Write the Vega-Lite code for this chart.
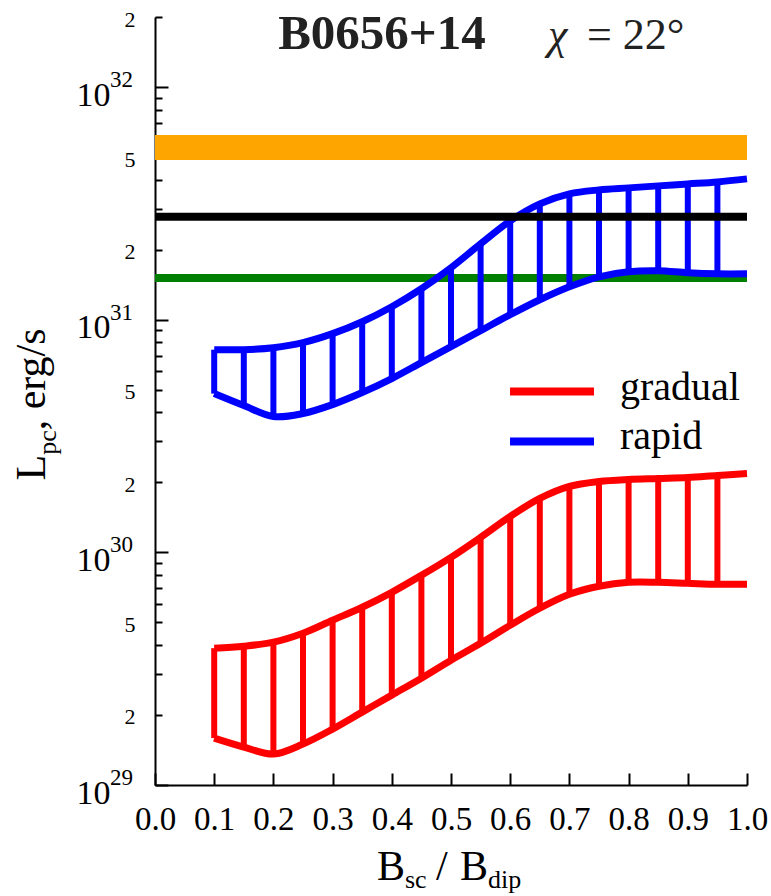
{
  "$schema": "https://vega.github.io/schema/vega-lite/v6.json",
  "width": 592,
  "height": 768,
  "autosize": {"type": "none"},
  "padding": {"left": 155, "top": 17, "right": 24, "bottom": 111},
  "background": "white",
  "config": {"view": {"stroke": null}},
  "datasets": {
    "band": [
      {"series": "gradual", "x": 0.10, "lo": 1.591e29, "hi": 3.873e29},
      {"series": "gradual", "x": 0.15, "lo": 1.456e29, "hi": 3.950e29},
      {"series": "gradual", "x": 0.20, "lo": 1.358e29, "hi": 4.110e29},
      {"series": "gradual", "x": 0.25, "lo": 1.500e29, "hi": 4.490e29},
      {"series": "gradual", "x": 0.30, "lo": 1.739e29, "hi": 5.107e29},
      {"series": "gradual", "x": 0.35, "lo": 2.057e29, "hi": 5.806e29},
      {"series": "gradual", "x": 0.40, "lo": 2.434e29, "hi": 6.734e29},
      {"series": "gradual", "x": 0.45, "lo": 2.879e29, "hi": 7.967e29},
      {"series": "gradual", "x": 0.50, "lo": 3.440e29, "hi": 9.518e29},
      {"series": "gradual", "x": 0.55, "lo": 4.068e29, "hi": 1.1598e30},
      {"series": "gradual", "x": 0.60, "lo": 4.861e29, "hi": 1.427e30},
      {"series": "gradual", "x": 0.65, "lo": 5.750e29, "hi": 1.705e30},
      {"series": "gradual", "x": 0.70, "lo": 6.601e29, "hi": 1.920e30},
      {"series": "gradual", "x": 0.75, "lo": 7.146e29, "hi": 2.017e30},
      {"series": "gradual", "x": 0.80, "lo": 7.434e29, "hi": 2.058e30},
      {"series": "gradual", "x": 0.85, "lo": 7.434e29, "hi": 2.078e30},
      {"series": "gradual", "x": 0.90, "lo": 7.362e29, "hi": 2.099e30},
      {"series": "gradual", "x": 0.95, "lo": 7.290e29, "hi": 2.141e30},
      {"series": "gradual", "x": 1.00, "lo": 7.290e29, "hi": 2.180e30},
      {"series": "rapid", "x": 0.10, "lo": 4.813e30, "hi": 7.43e30},
      {"series": "rapid", "x": 0.15, "lo": 4.274e30, "hi": 7.43e30},
      {"series": "rapid", "x": 0.20, "lo": 3.835e30, "hi": 7.58e30},
      {"series": "rapid", "x": 0.25, "lo": 3.951e30, "hi": 7.97e30},
      {"series": "rapid", "x": 0.30, "lo": 4.316e30, "hi": 8.71e30},
      {"series": "rapid", "x": 0.35, "lo": 4.861e30, "hi": 9.80e30},
      {"series": "rapid", "x": 0.40, "lo": 5.582e30, "hi": 1.137e31},
      {"series": "rapid", "x": 0.45, "lo": 6.539e30, "hi": 1.358e31},
      {"series": "rapid", "x": 0.50, "lo": 7.659e30, "hi": 1.672e31},
      {"series": "rapid", "x": 0.55, "lo": 8.970e30, "hi": 2.120e31},
      {"series": "rapid", "x": 0.60, "lo": 1.0507e31, "hi": 2.660e31},
      {"series": "rapid", "x": 0.65, "lo": 1.218e31, "hi": 3.147e31},
      {"series": "rapid", "x": 0.70, "lo": 1.385e31, "hi": 3.474e31},
      {"series": "rapid", "x": 0.75, "lo": 1.529e31, "hi": 3.613e31},
      {"series": "rapid", "x": 0.80, "lo": 1.607e31, "hi": 3.686e31},
      {"series": "rapid", "x": 0.85, "lo": 1.623e31, "hi": 3.760e31},
      {"series": "rapid", "x": 0.90, "lo": 1.591e31, "hi": 3.834e31},
      {"series": "rapid", "x": 0.95, "lo": 1.575e31, "hi": 3.911e31},
      {"series": "rapid", "x": 1.00, "lo": 1.575e31, "hi": 4.029e31}
    ],
    "levels": [
      {"name": "orange", "x": 0, "x2": 1, "lo": 4.86e31, "hi": 6.22e31},
      {"name": "black", "x": 0, "x2": 1, "lo": 2.77e31, "hi": 2.77e31},
      {"name": "green", "x": 0, "x2": 1, "lo": 1.51e31, "hi": 1.51e31}
    ],
    "legend": [
      {"series": "gradual", "x": 0.5997, "x2": 0.7416, "lo": 4.91e30, "xt": 0.7855, "yt": 4.536e30},
      {"series": "rapid", "x": 0.5997, "x2": 0.7416, "lo": 2.995e30, "xt": 0.7855, "yt": 2.768e30}
    ],
    "exps": [
      {"e": "29", "x": 0, "y": 1e29},
      {"e": "30", "x": 0, "y": 1e30},
      {"e": "31", "x": 0, "y": 1e31},
      {"e": "32", "x": 0, "y": 1e32}
    ],
    "texts": [
      {"role": "title", "t": "B0656+14", "x": 0.3834, "y": 1.4558e32},
      {"role": "chi", "t": "χ", "x": 0.6639, "y": 1.4558e32},
      {"role": "eq", "t": "= 22°", "x": 0.7297, "y": 1.4558e32},
      {"role": "xbig", "t": "B", "x": 0.3750, "y": 3.91e28},
      {"role": "xsub", "t": "sc", "x": 0.4223, "y": 3.91e28},
      {"role": "xbig", "t": "/", "x": 0.4747, "y": 3.91e28},
      {"role": "xbig", "t": "B", "x": 0.5152, "y": 3.91e28},
      {"role": "xsub", "t": "dip", "x": 0.5625, "y": 3.91e28},
      {"role": "ybig", "t": "L", "x": -0.1858, "y": 2.037e30},
      {"role": "ysub", "t": "pc", "x": -0.1858, "y": 2.6264e30},
      {"role": "ybig", "t": ", erg/s", "x": -0.1858, "y": 3.3457e30}
    ]
  },
  "layer": [
    {
      "data": {"name": "levels"},
      "transform": [{"filter": "datum.name == 'orange'"}],
      "mark": {"type": "rect", "color": "#ffa500"},
      "encoding": {
        "x": {
          "field": "x", "type": "quantitative",
          "scale": {"domain": [0, 1], "nice": false, "zero": false},
          "axis": {
            "values": [0, 0.05, 0.1, 0.15, 0.2, 0.25, 0.3, 0.35, 0.4, 0.45, 0.5, 0.55, 0.6, 0.65, 0.7, 0.75, 0.8, 0.85, 0.9, 0.95, 1],
            "labelExpr": "abs(datum.value*10-round(datum.value*10))<0.01 ? format(datum.value,'.1f') : ''",
            "tickSize": {"condition": {"test": "abs(datum.value*10-round(datum.value*10))<0.01", "value": -12}, "value": -6},
            "labelPadding": 30,
            "labelFont": "Liberation Serif", "labelFontSize": 33, "labelColor": "black",
            "labelOverlap": false, "labelFlush": false, "labelBound": false,
            "domainColor": "black", "domainWidth": 2, "tickColor": "black", "tickWidth": 2,
            "grid": false, "title": null
          }
        },
        "x2": {"field": "x2"},
        "y": {
          "field": "lo", "type": "quantitative",
          "scale": {"type": "log", "domain": [1e29, 2e32], "nice": false},
          "axis": {
            "values": [1e29, 2e29, 3e29, 4e29, 5e29, 6e29, 7e29, 8e29, 9e29, 1e30, 2e30, 3e30, 4e30, 5e30, 6e30, 7e30, 8e30, 9e30, 1e31, 2e31, 3e31, 4e31, 5e31, 6e31, 7e31, 8e31, 9e31, 1e32, 2e32],
            "labelExpr": "indexof([1e29,1e30,1e31,1e32],datum.value)>=0?'10':indexof([2e29,2e30,2e31,2e32],datum.value)>=0?'2':indexof([5e29,5e30,5e31],datum.value)>=0?'5':''",
            "tickSize": {"condition": {"test": "indexof([1e29,1e30,1e31,1e32],datum.value)>=0", "value": -13}, "value": -7},
            "labelPadding": {"expr": "indexof([1e29,1e30,1e31,1e32],datum.value)>=0 ? 58 : 27"},
            "labelFontSize": {"condition": {"test": "indexof([1e29,1e30,1e31,1e32],datum.value)>=0", "value": 34}, "value": 22},
            "labelOffset": {"condition": {"test": "indexof([1e29,1e30,1e31,1e32],datum.value)>=0", "value": 8}, "value": 2},
            "labelFont": "Liberation Serif", "labelColor": "black",
            "labelOverlap": false, "labelFlush": false, "labelBound": false,
            "domainColor": "black", "domainWidth": 2, "tickColor": "black", "tickWidth": 2,
            "grid": false, "title": null
          }
        },
        "y2": {"field": "hi"}
      }
    },
    {
      "data": {"name": "levels"},
      "transform": [{"filter": "datum.name == 'green'"}],
      "mark": {"type": "rule", "color": "#008000", "strokeWidth": 8},
      "encoding": {
        "x": {"field": "x", "type": "quantitative", "axis": {"title": null}},
        "x2": {"field": "x2"},
        "y": {"field": "lo", "type": "quantitative", "axis": {"title": null}}
      }
    },
    {
      "data": {"name": "band"},
      "transform": [{"filter": "datum.x < 0.99"}],
      "mark": {"type": "rule", "strokeWidth": 6, "strokeCap": "butt"},
      "encoding": {
        "x": {"field": "x", "type": "quantitative", "axis": {"title": null}},
        "y": {"field": "lo", "type": "quantitative", "axis": {"title": null}},
        "y2": {"field": "hi"},
        "color": {"field": "series", "type": "nominal", "scale": {"domain": ["gradual", "rapid"], "range": ["#ff0000", "#0000ff"]}, "legend": null}
      }
    },
    {
      "data": {"name": "band"},
      "mark": {"type": "line", "strokeWidth": 7, "interpolate": "catmull-rom", "strokeCap": "butt"},
      "encoding": {
        "x": {"field": "x", "type": "quantitative", "axis": {"title": null}},
        "y": {"field": "lo", "type": "quantitative", "axis": {"title": null}},
        "color": {"field": "series", "type": "nominal", "legend": null}
      }
    },
    {
      "data": {"name": "band"},
      "mark": {"type": "line", "strokeWidth": 7, "interpolate": "catmull-rom", "strokeCap": "butt"},
      "encoding": {
        "x": {"field": "x", "type": "quantitative", "axis": {"title": null}},
        "y": {"field": "hi", "type": "quantitative", "axis": {"title": null}},
        "color": {"field": "series", "type": "nominal", "legend": null}
      }
    },
    {
      "data": {"name": "levels"},
      "transform": [{"filter": "datum.name == 'black'"}],
      "mark": {"type": "rule", "color": "black", "strokeWidth": 8},
      "encoding": {
        "x": {"field": "x", "type": "quantitative", "axis": {"title": null}},
        "x2": {"field": "x2"},
        "y": {"field": "lo", "type": "quantitative", "axis": {"title": null}}
      }
    },
    {
      "data": {"name": "legend"},
      "mark": {"type": "rule", "strokeWidth": 8, "strokeCap": "butt"},
      "encoding": {
        "x": {"field": "x", "type": "quantitative", "axis": {"title": null}},
        "x2": {"field": "x2"},
        "y": {"field": "lo", "type": "quantitative", "axis": {"title": null}},
        "color": {"field": "series", "type": "nominal", "legend": null}
      }
    },
    {
      "data": {"name": "legend"},
      "mark": {"type": "text", "font": "Liberation Serif", "fontSize": 40, "align": "left", "baseline": "alphabetic", "color": "black"},
      "encoding": {
        "x": {"field": "xt", "type": "quantitative", "axis": {"title": null}},
        "y": {"field": "yt", "type": "quantitative", "axis": {"title": null}},
        "text": {"field": "series"}
      }
    },
    {
      "data": {"name": "exps"},
      "mark": {"type": "text", "font": "Liberation Serif", "fontSize": 23, "align": "right", "baseline": "alphabetic", "dx": -22, "color": "black"},
      "encoding": {
        "x": {"field": "x", "type": "quantitative", "axis": {"title": null}},
        "y": {"field": "y", "type": "quantitative", "axis": {"title": null}},
        "text": {"field": "e"}
      }
    },
    {
      "data": {"name": "texts"},
      "transform": [{"filter": "datum.role == 'title'"}],
      "mark": {"type": "text", "font": "Liberation Serif", "fontSize": 49, "fontWeight": "bold", "align": "center", "baseline": "alphabetic", "color": "#222222"},
      "encoding": {
        "x": {"field": "x", "type": "quantitative", "axis": {"title": null}},
        "y": {"field": "y", "type": "quantitative", "axis": {"title": null}},
        "text": {"field": "t"}
      }
    },
    {
      "data": {"name": "texts"},
      "transform": [{"filter": "datum.role == 'chi'"}],
      "mark": {"type": "text", "font": "Liberation Serif", "fontSize": 44, "fontStyle": "italic", "align": "left", "baseline": "alphabetic", "color": "#222222"},
      "encoding": {
        "x": {"field": "x", "type": "quantitative", "axis": {"title": null}},
        "y": {"field": "y", "type": "quantitative", "axis": {"title": null}},
        "text": {"field": "t"}
      }
    },
    {
      "data": {"name": "texts"},
      "transform": [{"filter": "datum.role == 'eq'"}],
      "mark": {"type": "text", "font": "Liberation Serif", "fontSize": 44, "align": "left", "baseline": "alphabetic", "color": "#222222"},
      "encoding": {
        "x": {"field": "x", "type": "quantitative", "axis": {"title": null}},
        "y": {"field": "y", "type": "quantitative", "axis": {"title": null}},
        "text": {"field": "t"}
      }
    },
    {
      "data": {"name": "texts"},
      "transform": [{"filter": "datum.role == 'xbig'"}],
      "mark": {"type": "text", "font": "Liberation Serif", "fontSize": 42, "align": "left", "baseline": "alphabetic", "color": "black"},
      "encoding": {
        "x": {"field": "x", "type": "quantitative", "axis": {"title": null}},
        "y": {"field": "y", "type": "quantitative", "axis": {"title": null}},
        "text": {"field": "t"}
      }
    },
    {
      "data": {"name": "texts"},
      "transform": [{"filter": "datum.role == 'xsub'"}],
      "mark": {"type": "text", "font": "Liberation Serif", "fontSize": 26, "align": "left", "baseline": "alphabetic", "dy": 8, "color": "black"},
      "encoding": {
        "x": {"field": "x", "type": "quantitative", "axis": {"title": null}},
        "y": {"field": "y", "type": "quantitative", "axis": {"title": null}},
        "text": {"field": "t"}
      }
    },
    {
      "data": {"name": "texts"},
      "transform": [{"filter": "datum.role == 'ybig'"}],
      "mark": {"type": "text", "font": "Liberation Serif", "fontSize": 42, "align": "left", "baseline": "alphabetic", "angle": 270, "color": "black"},
      "encoding": {
        "x": {"field": "x", "type": "quantitative", "axis": {"title": null}},
        "y": {"field": "y", "type": "quantitative", "axis": {"title": null}},
        "text": {"field": "t"}
      }
    },
    {
      "data": {"name": "texts"},
      "transform": [{"filter": "datum.role == 'ysub'"}],
      "mark": {"type": "text", "font": "Liberation Serif", "fontSize": 26, "align": "left", "baseline": "alphabetic", "angle": 270, "dy": 11, "color": "black"},
      "encoding": {
        "x": {"field": "x", "type": "quantitative", "axis": {"title": null}},
        "y": {"field": "y", "type": "quantitative", "axis": {"title": null}},
        "text": {"field": "t"}
      }
    }
  ]
}
